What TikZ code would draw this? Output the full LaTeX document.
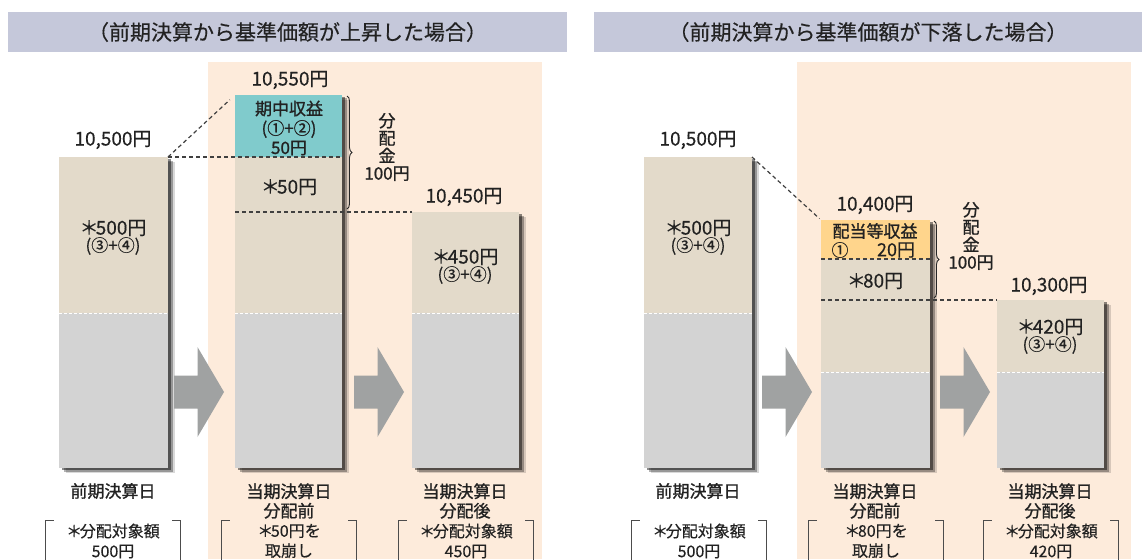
\documentclass[tikz,border=0pt]{standalone}
\usepackage{fontspec}
\setmainfont{Noto Sans CJK JP}[FakeBold=0.35]
\newfontfamily\bfont{Noto Sans CJK JP}[FakeBold=1.1]
\usetikzlibrary{decorations.pathreplacing,shadows}
\definecolor{bandc}{HTML}{C5C8DA}
\definecolor{peach}{HTML}{FDEBDB}
\definecolor{beige}{HTML}{E3DACA}
\definecolor{greyb}{HTML}{D3D3D3}
\definecolor{tealc}{HTML}{80CBCC}
\definecolor{orng}{HTML}{FFD58C}
\definecolor{arrowg}{HTML}{A0A2A2}
\definecolor{txt}{HTML}{222222}
\begin{document}
\begin{tikzpicture}[x=1pt,y=-1pt,
  seg/.style 2 args={anchor=north west, inner sep=0pt, outer sep=0pt,
    minimum width=#1pt, minimum height=#2pt},
  barbox/.style={fill=greyb,
    drop shadow={shadow xshift=7pt,shadow yshift=-5pt,fill=black,opacity=.15},
    drop shadow={shadow xshift=5pt,shadow yshift=-3.5pt,fill=black,opacity=.3},
    drop shadow={shadow xshift=3pt,shadow yshift=-2pt,fill=black,opacity=.45}},
  t/.style={font=\fontsize{#1}{#1}\selectfont, text=txt, inner sep=0pt, align=center},
  t/.default=17,
  ml/.style={font=\fontsize{#1}{20}\selectfont, text=txt, inner sep=0pt, align=center},
  ml/.default=17,
  bl/.style={font=\bfont\fontsize{#1}{19.5}\selectfont, text=txt, inner sep=0pt, align=center},
  bl/.default=17,
  hdr/.style={fill=bandc, inner sep=0pt, minimum height=40pt,
    font=\fontsize{21}{22}\selectfont, text=txt},
  pnl/.style={fill=peach, anchor=north west, inner sep=0pt, minimum width=334pt, minimum height=497pt},
  dline/.style={draw=black!75, line width=1.2pt, dash pattern=on 4pt off 3pt},
  wline/.style={draw=white, line width=0.9pt, dash pattern=on 3pt off 2pt},
  brc/.style={draw=black!85, line width=0.9pt, decorate, decoration={brace, amplitude=5pt}},
  bkt/.style={draw=black!70, line width=1.3pt},
  bkbox/.style={ml=16, minimum width=134pt, minimum height=40pt, inner sep=0pt},
  barrow/.pic={\fill[arrowg] (0,-16.5) -- (23.5,-16.5) -- (23.5,-45) -- (50,0) -- (23.5,45) -- (23.5,16.5) -- (0,16.5) -- cycle;}
]
\useasboundingbox (0,0) rectangle (1142,559);
\fill[white] (0,0) rectangle (1142,559);

% header bands
\node[hdr, minimum width=559pt] (HL) at (287.5,32) {（前期決算から基準価額が上昇した場合）};
\node[hdr, minimum width=548pt] (HR) at (868,32) {（前期決算から基準価額が下落した場合）};

% peach panels
\node[pnl] (PL) at (208,62) {};
\node[pnl] (PR) at (797,62) {};

% ================= LEFT =================
\node[barbox, seg={109}{311}] (L1) at (59,157) {};
\node[fill=beige, seg={109}{156}] (L1b) at (59,157) {};
\node[fill=greyb, seg={109}{155}] (L1g) at (59,313) {};
\draw[wline] (L1g.north west) -- (L1g.north east);

\node[barbox, seg={107}{373}] (L2) at (235,95) {};
\node[fill=tealc, seg={107}{62}] (L2a) at (235,95) {};
\node[fill=beige, seg={107}{55}] (L2b) at (235,157) {};
\node[fill=beige, seg={107}{101}] (L2c) at (235,212) {};
\node[fill=greyb, seg={107}{155}] (L2g) at (235,313) {};
\draw[wline] (L2g.north west) -- (L2g.north east);

\node[barbox, seg={107}{256}] (L3) at (412,212) {};
\node[fill=beige, seg={107}{101}] (L3b) at (412,212) {};
\node[fill=greyb, seg={107}{155}] (L3g) at (412,313) {};
\draw[wline] (L3g.north west) -- (L3g.north east);

\draw[dline] (L1b.north east) -- (L2b.north east);
\draw[dline] (L2c.north west) -- (L3b.north west);
\draw[dline, shorten >=7pt] (L1b.north east) -- (L2a.north west);
\draw[brc] ([xshift=5pt,yshift=-1pt]L2a.north east) -- ([xshift=5pt,yshift=3pt]L2c.north east);

\node[t=19] (L1v) at (113,140) {10,500円};
\node[t=19] (L1x) at (113,228) {＊\kern-0.15em 500円};
\node[t=17] (L1y) at (113,246) {(③+④)};

\node[t=19] (L2v) at (290,80) {10,550円};
\node[bl=17] (L2t) at (289,128) {期中収益\\{\fontsize{17}{19.5}\selectfont(①+②)}\\50円};
\node[t=19] (L2x) at (289,187) {＊\kern-0.15em 50円};
\node[font=\bfont\fontsize{17}{17.5}\selectfont, text=txt, inner sep=0pt, align=center] (L2d) at (387,147) {分\\配\\金\\100円};

\node[t=19] (L3v) at (464,197) {10,450円};
\node[t=19] (L3x) at (465,257) {＊\kern-0.15em 450円};
\node[t=17] (L3y) at (465,275) {(③+④)};

\pic at (174,392) {barrow};
\pic at (354,392) {barrow};

\node[bl=17] (L1n) at (113,491) {前期決算日};
\node[bl=17] (L2n) at (289,501) {当期決算日\\分配前};
\node[bl=17] (L3n) at (465,501) {当期決算日\\分配後};

\node[bkbox] (L1k) at (113,541) {＊\kern-0.15em 分配対象額\\500円};
\node[bkbox] (L2k) at (289,541) {＊\kern-0.15em 50円を\\取崩し};
\node[bkbox] (L3k) at (466,541) {＊\kern-0.15em 分配対象額\\450円};

% ================= RIGHT =================
\node[barbox, seg={108}{311}] (R1) at (644,157) {};
\node[fill=beige, seg={108}{156}] (R1b) at (644,157) {};
\node[fill=greyb, seg={108}{155}] (R1g) at (644,313) {};
\draw[wline] (R1g.north west) -- (R1g.north east);

\node[barbox, seg={109}{248}] (R2) at (821,220) {};
\node[fill=orng, seg={109}{39}] (R2a) at (821,220) {};
\node[fill=beige, seg={109}{41}] (R2b) at (821,259) {};
\node[fill=beige, seg={109}{72}] (R2c) at (821,300) {};
\node[fill=greyb, seg={109}{96}] (R2g) at (821,372) {};
\draw[wline] (R2g.north west) -- (R2g.north east);

\node[barbox, seg={107}{168}] (R3) at (997,300) {};
\node[fill=beige, seg={107}{72}] (R3b) at (997,300) {};
\node[fill=greyb, seg={107}{96}] (R3g) at (997,372) {};
\draw[wline] (R3g.north west) -- (R3g.north east);

\draw[dline] (R2b.north west) -- (R2b.north east);
\draw[dline] (R2c.north west) -- (R3b.north west);
\draw[dline, shorten >=2pt] (R1b.north east) -- (R2a.north west);
\draw[brc] ([xshift=4pt,yshift=-1pt]R2a.north east) -- ([xshift=4pt,yshift=2pt]R2c.north east);

\node[t=19] (R1v) at (698,140) {10,500円};
\node[t=19] (R1x) at (698,228) {＊\kern-0.15em 500円};
\node[t=17] (R1y) at (698,246) {(③+④)};

\node[t=19] (R2v) at (875,205) {10,400円};
\node[bl=17] (R2t) at (875,231) {配当等収益};
\node[t=17] (R2u) at (840,250) {①};
\node[t=18] (R2w) at (896,250) {20円};
\node[t=19] (R2x) at (875,281) {＊\kern-0.15em 80円};
\node[font=\bfont\fontsize{17}{17.5}\selectfont, text=txt, inner sep=0pt, align=center] (R2d) at (971,236) {分\\配\\金\\100円};

\node[t=19] (R3v) at (1049,286) {10,300円};
\node[t=19] (R3x) at (1050,327) {＊\kern-0.15em 420円};
\node[t=17] (R3y) at (1050,345) {(③+④)};

\pic at (762,392) {barrow};
\pic at (940,392) {barrow};

\node[bl=17] (R1n) at (698,491) {前期決算日};
\node[bl=17] (R2n) at (875,501) {当期決算日\\分配前};
\node[bl=17] (R3n) at (1050,501) {当期決算日\\分配後};

\node[bkbox] (R1k) at (699,541) {＊\kern-0.15em 分配対象額\\500円};
\node[bkbox] (R2k) at (876,541) {＊\kern-0.15em 80円を\\取崩し};
\node[bkbox] (R3k) at (1051,541) {＊\kern-0.15em 分配対象額\\420円};

% brackets
\foreach \k in {L1k,L2k,L3k,R1k,R2k,R3k}{
  \draw[bkt] ([xshift=8pt]\k.north west) -- (\k.north west) -- ([yshift=-5pt]\k.south west);
  \draw[bkt] ([xshift=-8pt]\k.north east) -- (\k.north east) -- ([yshift=-5pt]\k.south east);
}
\end{tikzpicture}
\end{document}
